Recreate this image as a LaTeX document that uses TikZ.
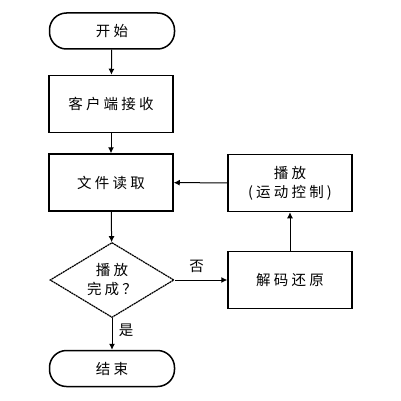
\documentclass[tikz,border=0pt]{standalone}
\usepackage{fontspec}
\newfontfamily\cjk[LetterSpace=22]{Noto Sans CJK SC}
\usetikzlibrary{arrows.meta,shapes.geometric}
\begin{document}
\begin{tikzpicture}[x=1pt,y=-1pt,
  font=\cjk\fontsize{14.5}{19}\selectfont,
  box/.style={draw, line width=1.5pt, minimum width=124pt, minimum height=57pt, align=center, inner sep=0pt},
  term/.style={draw, line width=1.5pt, minimum width=125pt, minimum height=36pt, rounded corners=17pt, inner sep=0pt},
  dec/.style={draw, line width=1.2pt, dashed, dash pattern=on 2pt off 0.6pt, diamond, aspect=1.66, minimum width=124pt, minimum height=75pt, inner sep=0pt, align=center},
  arr/.style={line width=1pt, -{Latex[length=6pt,width=6pt]}},
  lbl/.style={font=\cjk\fontsize{14.5}{19}\selectfont}]
\useasboundingbox (0,0) rectangle (400,401);
\node[term] (start) at (112,31) {开始};
\node[box] (recv) at (111,104) {客户端接收};
\node[box] (read) at (111,182.5) {文件读取};
\node[dec] (dec) at (112,280) {播放\\完成？};
\node[term] (end) at (112,368.5) {结束};
\node[box] (play) at (290,183) {播放\\(运动控制)};
\node[box] (dcode) at (290,280) {解码还原};
\draw[arr] (start) -- (recv);
\draw[arr] (recv) -- (read);
\draw[arr] (read) -- (dec);
\draw[arr] (dec) -- (end) node[lbl, pos=0.4, right=3pt] {是};
\draw[arr] (dec.east) -- (dcode.west) node[lbl, pos=0.42, above=4pt] {否};
\draw[arr] (dcode) -- (play);
\draw[arr] (play) -- (read);
\end{tikzpicture}
\end{document}
